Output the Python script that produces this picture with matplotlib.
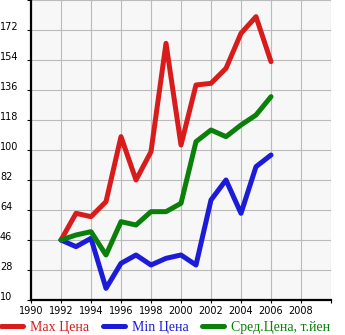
import matplotlib
matplotlib.use("Agg")
import matplotlib.pyplot as plt
from matplotlib.lines import Line2D

years = [1992, 1993, 1994, 1995, 1996, 1997, 1998, 1999, 2000, 2001, 2002, 2003, 2004, 2005, 2006]
max_price = [46, 62, 60, 69, 108, 82, 99, 164, 103, 139, 140, 149, 170, 180, 153]
min_price = [46, 42, 47, 17, 32, 37, 31, 35, 37, 31, 70, 82, 62, 90, 97]
avg_price = [46, 49, 51, 37, 57, 55, 63, 63, 68, 105, 112, 108, 115, 121, 132]

labels = ["Max Цена", "Min Цена", "Сред.Цена, т.йен"]
colors = ["#d81c1c", "#1c1cd8", "#0a800a"]

x_ticks = list(range(1990, 2009, 2))
y_ticks = list(range(10, 173, 18))

fig = plt.figure(figsize=(3.45, 3.35), dpi=100)
ax = fig.add_axes([31/345, 35/335, 300/345, 300/335])
ax.set_facecolor("#f7f7f7")

for ys, c, lab in zip([max_price, min_price, avg_price], colors, labels):
    ax.plot(years, ys, color=c, lw=3.6, solid_capstyle="round",
            solid_joinstyle="round", label=lab, zorder=3)

ax.set_xlim(1990, 2010)
ax.set_ylim(10, 190)
ax.set_xticks(x_ticks + [2010])
ax.set_xticklabels([str(v) for v in x_ticks] + [""])
ax.set_yticks(y_ticks + [190])
ax.set_yticklabels([str(v) for v in y_ticks] + [""])
ax.grid(True, color="#bbbbbb", lw=0.8, zorder=0)
ax.set_axisbelow(True)

for s in ["top", "right"]:
    ax.spines[s].set_visible(False)
for s in ["left", "bottom"]:
    ax.spines[s].set_linewidth(1.6)
    ax.spines[s].set_color("black")

ax.tick_params(axis="y", length=3, width=0.8, pad=19.3, labelsize=7.0, colors="black")
ax.tick_params(axis="x", length=2, width=0.8, pad=2.5, labelsize=7.0, colors="black")
for t in ax.get_yticklabels():
    t.set_horizontalalignment("left")
    t.set_verticalalignment("baseline")

handles = [Line2D([0], [0], color=c, lw=3.6, solid_capstyle="round") for c in colors]
leg = fig.legend(handles, labels, loc="center left", bbox_to_anchor=(0.003, 8/335),
                 ncol=3, frameon=False, handlelength=1.6, handletextpad=0.5,
                 columnspacing=0.95, borderaxespad=0, borderpad=0,
                 prop={"family": "Liberation Serif", "size": 10})
for t, c in zip(leg.get_texts(), colors):
    t.set_color(c)

fig.savefig("out.png", dpi=100, facecolor="white")
